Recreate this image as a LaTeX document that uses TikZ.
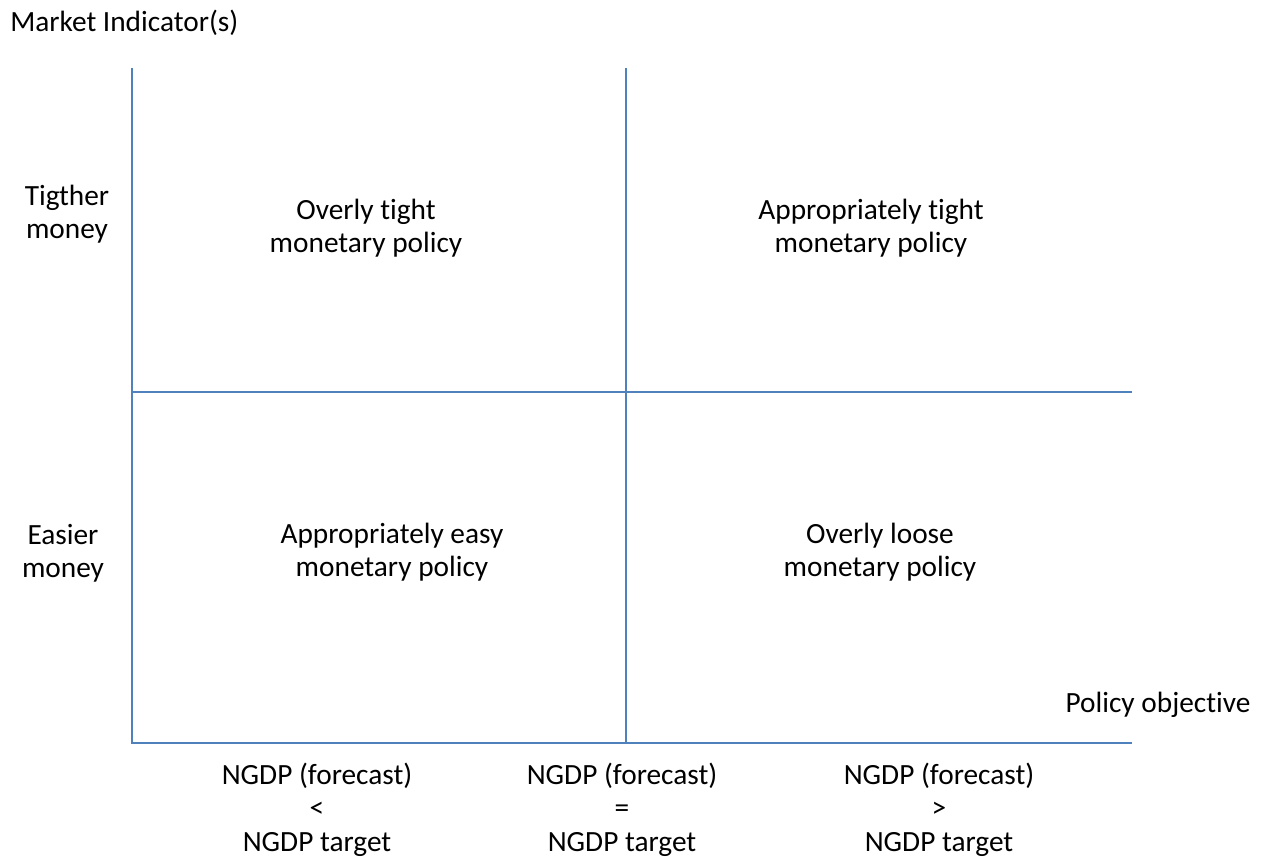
\documentclass[tikz,border=0pt]{standalone}
\usepackage{fontspec}
\setmainfont{Carlito}[Ligatures=NoCommon]
\definecolor{axisblue}{HTML}{4F81BD}
\begin{document}
\begin{tikzpicture}[x=0.75pt,y=-0.75pt,
  axisline/.style={draw=axisblue,line width=1.5pt},
  lbl/.style={inner sep=0pt,font=\fontsize{22pt}{24.5pt}\selectfont,align=center,anchor=base},
  lblb/.style={inner sep=0pt,font=\fontsize{22pt}{25pt}\selectfont,align=center,anchor=base}]
\useasboundingbox (0,0) rectangle (1261,857);
% axes coordinates
\coordinate (ltop) at (132,68);
\coordinate (lbot) at (132,743);
\coordinate (mtop) at (626,68);
\coordinate (mbot) at (626,743);
\coordinate (hl) at (132,392);
\coordinate (hr) at (1132,392);
\coordinate (br) at (1132,743);
\draw[axisline] (ltop) -- (lbot) -- (br);
\draw[axisline] (mtop) -- (mbot);
\draw[axisline] (hl) -- (hr);
% labels
\node[lbl,anchor=base west] (mi) at (10,31) {Market Indicator(s)};
\node[lbl] (tm) at (67,238) {Tigther\\money};
\node[lbl] (em) at (63,577) {Easier\\money};
\node[lbl] (ot) at (366,252) {Overly tight\\monetary policy};
\node[lbl] (at) at (871,252) {Appropriately tight\\monetary policy};
\node[lbl] (ae) at (392,576) {Appropriately easy\\monetary policy};
\node[lbl] (ol) at (880,576) {Overly loose\\monetary policy};
\node[lbl] (po) at (1158,712) {Policy objective};
\node[lblb] (b1) at (317,851) {NGDP (forecast)\\<\\NGDP target};
\node[lblb] (b2) at (622,851) {NGDP (forecast)\\=\\NGDP target};
\node[lblb] (b3) at (939,851) {NGDP (forecast)\\>\\NGDP target};
\end{tikzpicture}
\end{document}
